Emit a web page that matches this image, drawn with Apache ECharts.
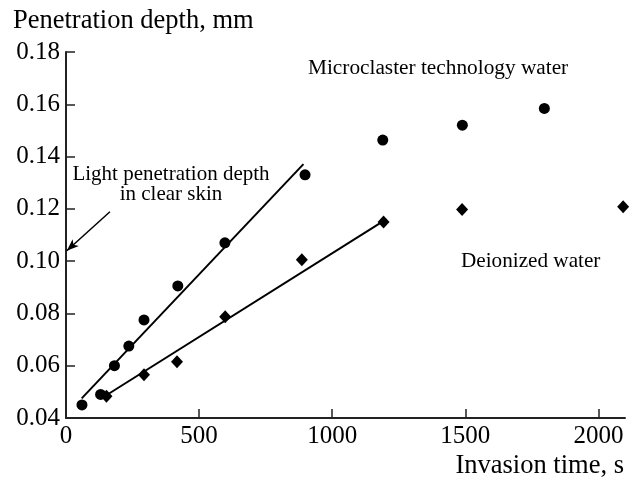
<!DOCTYPE html>
<html>
<head>
<meta charset="utf-8">
<script src="https://cdn.jsdelivr.net/npm/echarts@6/dist/echarts.min.js"></script>
<style>
  html, body { margin: 0; padding: 0; background: #fff; }
  #chart { width: 633px; height: 480px; }
</style>
</head>
<body>
<div id="chart"></div>
<script>
// Invasion time (s) and penetration depth (mm) for the two water types
const microTime   = [60, 130, 182, 236, 293, 420, 597, 898, 1190, 1489, 1797];
const microDepth  = [0.045, 0.049, 0.060, 0.0675, 0.0775, 0.0905, 0.107, 0.133, 0.1463, 0.152, 0.1584];
const deionTime   = [152, 293, 417, 598, 886, 1193, 1488, 2093];
const deionDepth  = [0.0483, 0.0565, 0.0615, 0.0787, 0.1005, 0.1150, 0.1198, 0.1208];

// Linear fits over the initial range (end points)
const microFitTime  = [59, 892];
const microFitDepth = [0.0475, 0.1371];
const deionFitTime  = [150, 1195];
const deionFitDepth = [0.0486, 0.1155];

// Light penetration depth in clear skin, marked on the depth axis
const arrowTime  = [165, 3];
const arrowDepth = [0.1189, 0.104];

const xTicks = [0, 500, 1000, 1500, 2000];

const zip = (xs, ys) => xs.map((x, i) => [x, ys[i]]);

const FONT = 'Liberation Serif';
const INK = '#000';

const chart = echarts.init(document.getElementById('chart'), null, { renderer: 'canvas' });

chart.setOption({
  backgroundColor: '#fff',
  animation: false,
  textStyle: { fontFamily: FONT, color: INK },
  grid: { left: 66, right: 8, top: 52, bottom: 62, containLabel: false },
  xAxis: {
    type: 'value',
    min: 0,
    max: 2100,
    name: 'Invasion time, s',
    nameLocation: 'end',
    nameGap: -1,
    nameTextStyle: {
      fontFamily: FONT, fontSize: 26.5, color: INK,
      align: 'right', verticalAlign: 'top', padding: [35, 0, 0, 0]
    },
    axisLine: { show: true, lineStyle: { color: '#222', width: 2 } },
    axisTick: { show: true, inside: true, length: 9, customValues: xTicks, lineStyle: { color: '#222', width: 1.5 } },
    axisLabel: {
      customValues: xTicks, fontFamily: FONT, fontSize: 25, color: INK, margin: 6,
      formatter: v => String(v)
    },
    splitLine: { show: false }
  },
  yAxis: {
    type: 'value',
    min: 0.04,
    max: 0.18,
    interval: 0.02,
    axisLine: { show: true, lineStyle: { color: '#222', width: 2 } },
    axisTick: { show: true, inside: true, length: 9, lineStyle: { color: '#222', width: 1.5 } },
    axisLabel: {
      fontFamily: FONT, fontSize: 25, color: INK, margin: 6,
      formatter: v => v.toFixed(2)
    },
    splitLine: { show: false }
  },
  graphic: [
    {
      type: 'text', x: 13, y: 21,
      style: { text: 'Penetration depth, mm', fontFamily: FONT, fontSize: 26.5, fill: INK, verticalAlign: 'middle' }
    },
    {
      type: 'text', x: 308, y: 68,
      style: { text: 'Microclaster technology water', fontFamily: FONT, fontSize: 21.3, fill: INK, verticalAlign: 'middle' }
    },
    {
      type: 'text', x: 461, y: 261,
      style: { text: 'Deionized water', fontFamily: FONT, fontSize: 21.2, fill: INK, verticalAlign: 'middle' }
    },
    {
      type: 'text', x: 171, y: 184,
      style: {
        text: 'Light penetration depth\nin clear skin', fontFamily: FONT, fontSize: 21, lineHeight: 20,
        fill: INK, align: 'center', verticalAlign: 'middle'
      }
    }
  ],
  series: [
    {
      name: 'Microclaster technology water',
      type: 'scatter',
      symbol: 'circle',
      symbolSize: 11,
      clip: false,
      itemStyle: { color: '#000', opacity: 1 },
      data: zip(microTime, microDepth)
    },
    {
      name: 'Deionized water',
      type: 'scatter',
      symbol: 'diamond',
      symbolSize: [12, 13],
      clip: false,
      itemStyle: { color: '#000', opacity: 1 },
      data: zip(deionTime, deionDepth)
    },
    {
      name: 'Microclaster fit',
      type: 'line',
      showSymbol: false,
      symbol: 'none',
      lineStyle: { color: '#000', width: 2 },
      data: zip(microFitTime, microFitDepth)
    },
    {
      name: 'Deionized fit',
      type: 'line',
      showSymbol: false,
      symbol: 'none',
      lineStyle: { color: '#000', width: 2 },
      data: zip(deionFitTime, deionFitDepth)
    },
    {
      name: 'Clear skin marker',
      type: 'line',
      showSymbol: false,
      symbol: 'none',
      lineStyle: { color: '#000', width: 0 },
      data: [],
      markLine: {
        silent: true,
        symbol: ['none', 'arrow'],
        symbolSize: [7, 12],
        label: { show: false },
        lineStyle: { color: '#000', width: 1.5, type: 'solid' },
        data: [[
          { coord: [arrowTime[0], arrowDepth[0]] },
          { coord: [arrowTime[1], arrowDepth[1]] }
        ]]
      }
    }
  ]
});
</script>
</body>
</html>
